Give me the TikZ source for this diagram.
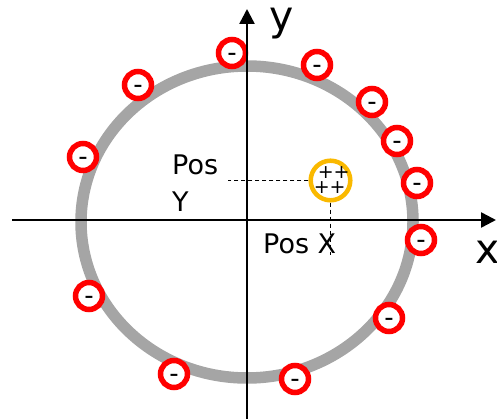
\documentclass[tikz,border=0pt]{standalone}
\usepackage{fontspec}
\setmainfont{DejaVu Sans}
\usetikzlibrary{arrows.meta}
\definecolor{ringgray}{RGB}{165,165,165}
\definecolor{chargered}{RGB}{255,0,0}
\definecolor{gold}{RGB}{250,185,0}
\begin{document}
\begin{tikzpicture}[x=1pt,y=-1pt,
  ring/.style={draw=ringgray,line width=11.5pt},
  axisline/.style={draw=black,line width=2.5pt,-{Triangle[length=15pt,width=15pt]}},
  minusbox/.style={circle,draw=chargered,fill=white,line width=5.5pt,minimum size=27pt,inner sep=0pt},
  minussign/.style={anchor=base,inner sep=0pt,font=\fontsize{26}{30}\selectfont},
  posbox/.style={circle,draw=gold,fill=white,line width=4.5pt,minimum size=39.6pt,inner sep=0pt},
  plussign/.style={inner sep=0pt,align=left,font=\fontsize{19}{15}\selectfont},
  guide/.style={draw=black,line width=1pt,dash pattern=on 4pt off 3pt},
  poslabel/.style={inner sep=0pt,font=\fontsize{27}{37}\selectfont},
  axislabel/.style={inner sep=0pt,anchor=base west,font=\fontsize{41}{46}\selectfont}]
\useasboundingbox (0,0) rectangle (497,419);
% ring
\path[ring] (247,222) ellipse [x radius=166, y radius=156];
% negative charges
\foreach \cx/\cy [count=\i] in {232/53,317/65,138/85,372/102,397/141,83/157,417/183,421/240,89/296,389/318,174/374,295/379}{
  \node[minusbox] (m\i) at (\cx,\cy) {};
  \node[minussign] (d\i) at (\cx,\cy+8.6) {-};
}
% positive charge
\node[posbox] (p) at (330.5,180.5) {};
\node[plussign] (pp) at (331.7,180.5) {\hspace{4pt}++\\++};
% guides
\coordinate (gy) at (228,180.5);
\coordinate (gx) at (330.5,255);
\path[guide] (p.west) -- (gy);
\path[guide] (p.south) -- (gx);
% axes
\coordinate (xl) at (12,220);
\coordinate (xr) at (496,220);
\coordinate (yb) at (247,419);
\coordinate (yt) at (247,9);
\path[axisline] (xl) -- (xr);
\path[axisline] (yb) -- (yt);
% labels
\node[axislabel] (ylab) at (269,31) {y};
\node[axislabel] (xlab) at (475,263) {x};
\node[poslabel,anchor=south west,align=left] (posy) at (172,212) {Pos\\Y};
\node[poslabel,anchor=base west] (posx) at (263,254) {Pos X};
\end{tikzpicture}
\end{document}
